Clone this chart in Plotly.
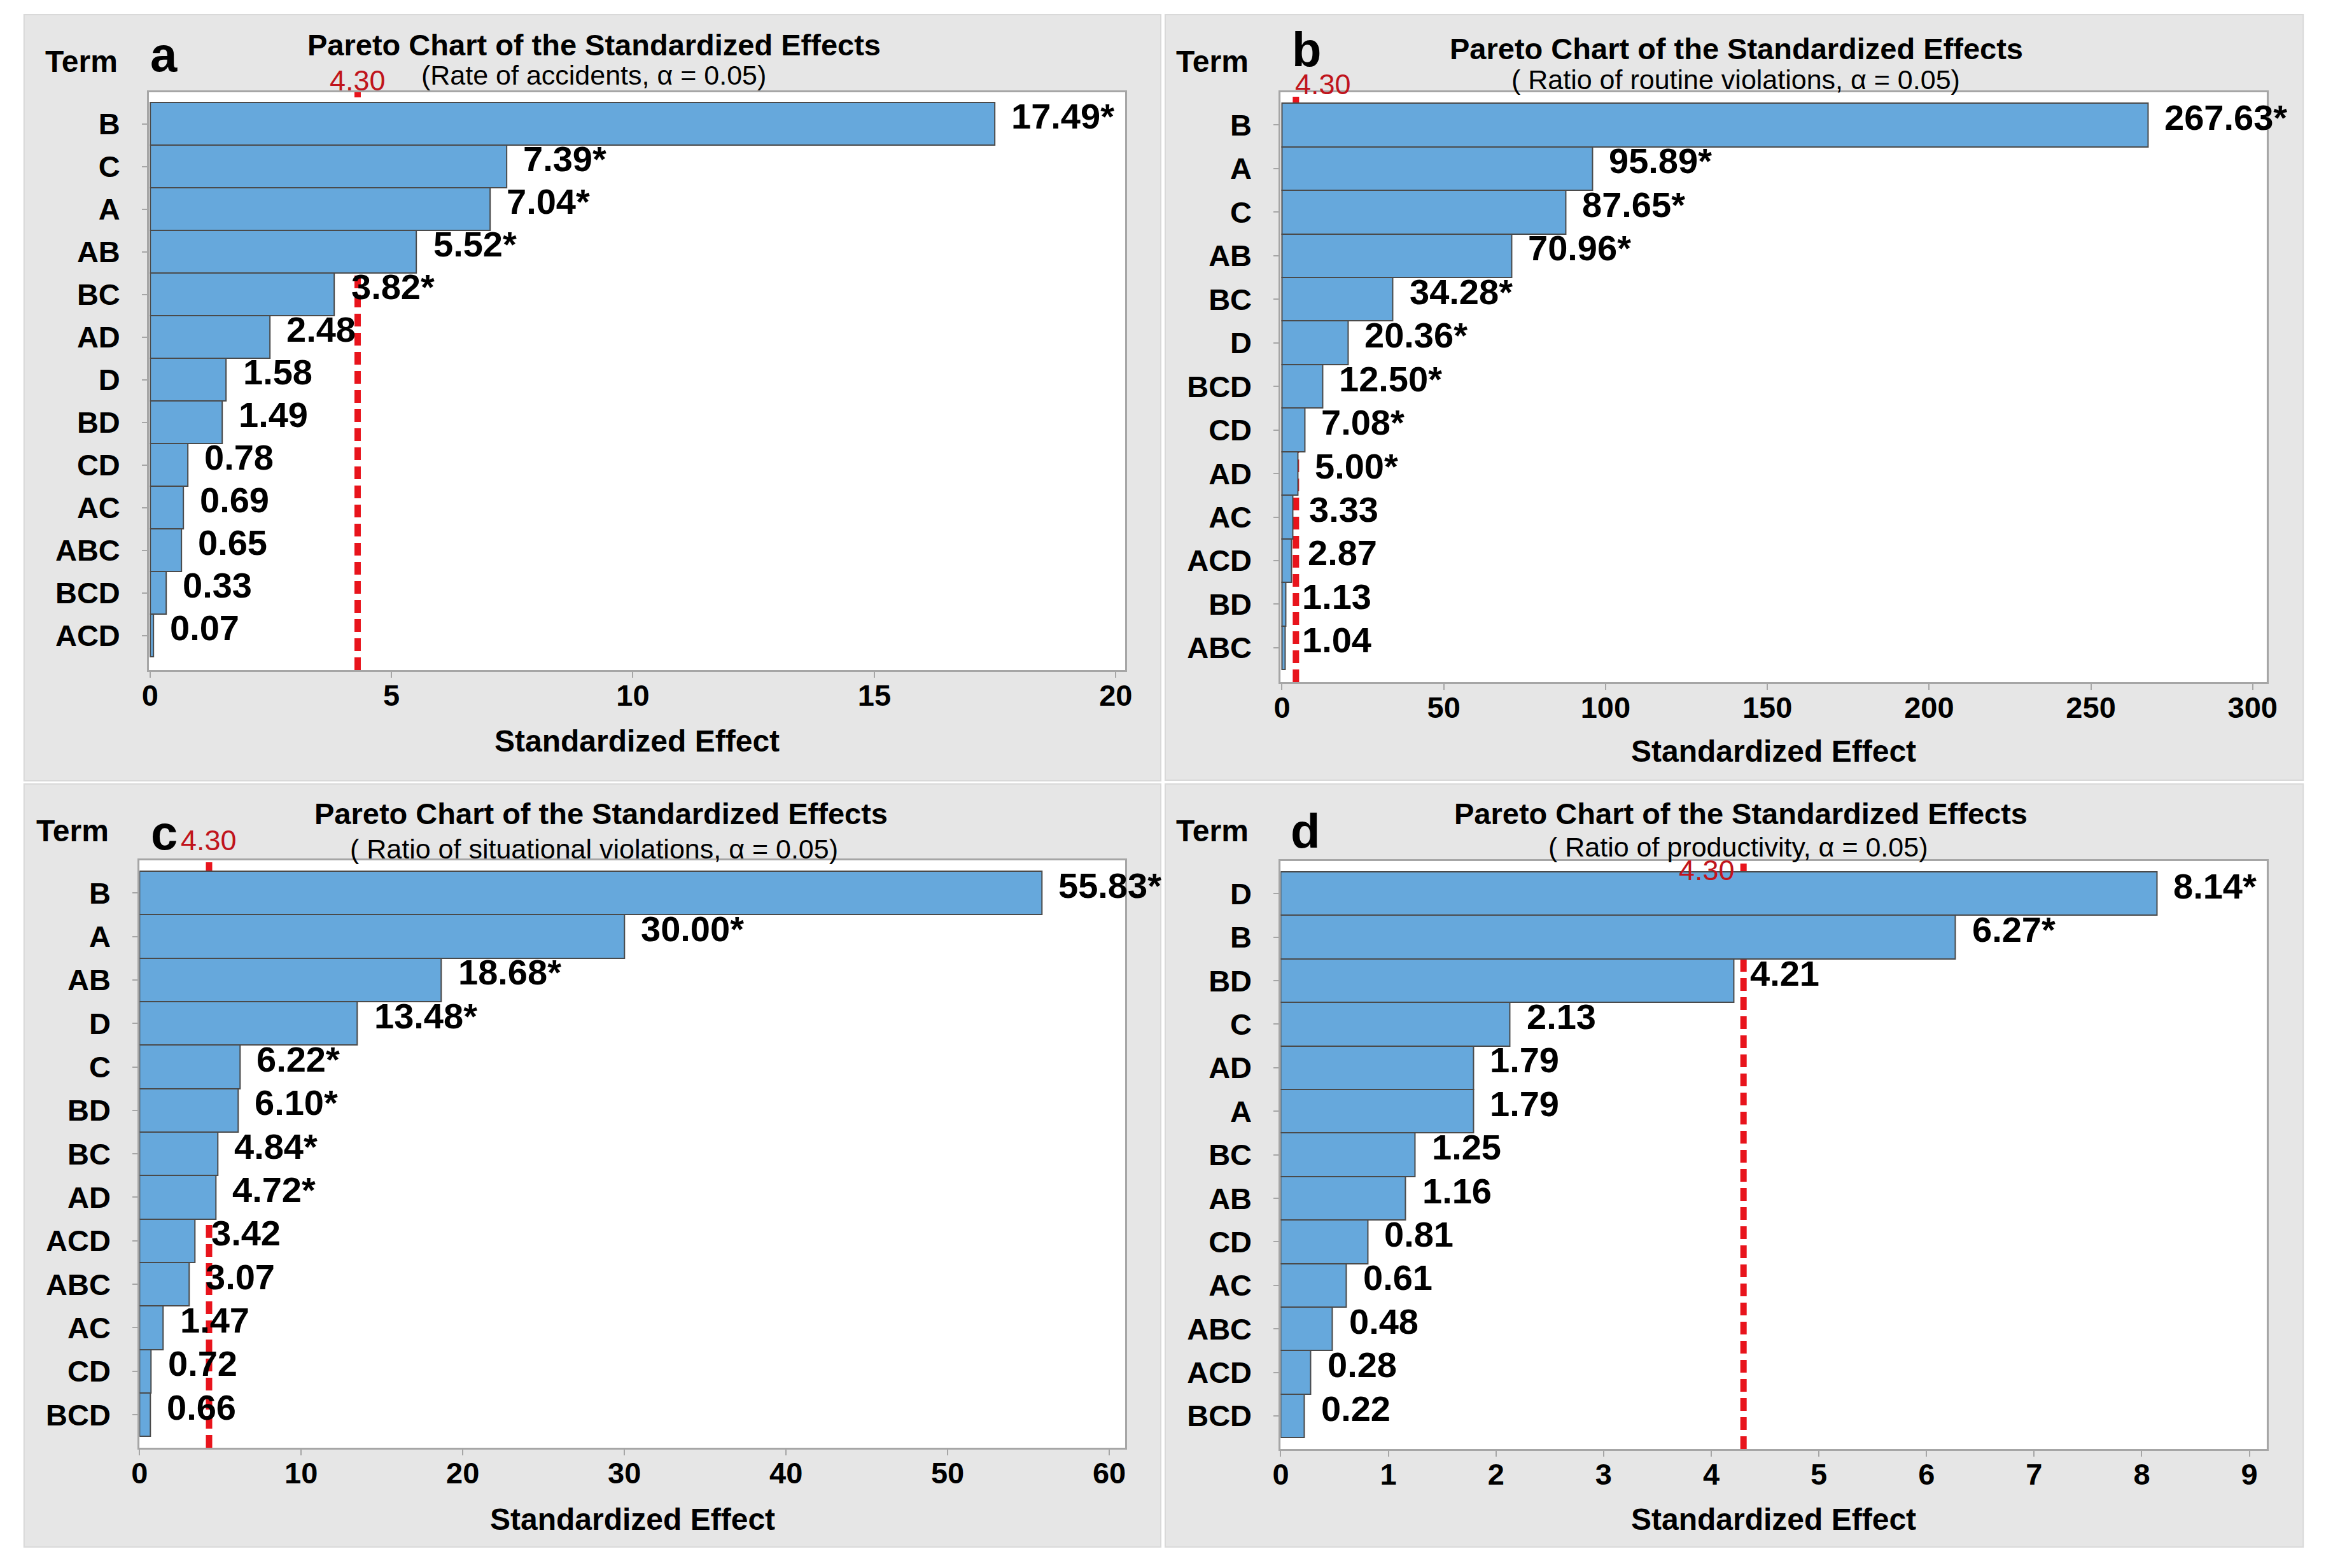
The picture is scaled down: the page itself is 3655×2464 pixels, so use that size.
import plotly.graph_objects as go

# ---------------- data ----------------
threshold = 4.30

terms_a = ["B", "C", "A", "AB", "BC", "AD", "D", "BD", "CD", "AC", "ABC", "BCD", "ACD"]
effects_a = [17.49, 7.39, 7.04, 5.52, 3.82, 2.48, 1.58, 1.49, 0.78, 0.69, 0.65, 0.33, 0.07]
signif_a = [1, 1, 1, 1, 1, 0, 0, 0, 0, 0, 0, 0, 0]

terms_b = ["B", "A", "C", "AB", "BC", "D", "BCD", "CD", "AD", "AC", "ACD", "BD", "ABC"]
effects_b = [267.63, 95.89, 87.65, 70.96, 34.28, 20.36, 12.50, 7.08, 5.00, 3.33, 2.87, 1.13, 1.04]
signif_b = [1, 1, 1, 1, 1, 1, 1, 1, 1, 0, 0, 0, 0]

terms_c = ["B", "A", "AB", "D", "C", "BD", "BC", "AD", "ACD", "ABC", "AC", "CD", "BCD"]
effects_c = [55.83, 30.00, 18.68, 13.48, 6.22, 6.10, 4.84, 4.72, 3.42, 3.07, 1.47, 0.72, 0.66]
signif_c = [1, 1, 1, 1, 1, 1, 1, 1, 0, 0, 0, 0, 0]

terms_d = ["D", "B", "BD", "C", "AD", "A", "BC", "AB", "CD", "AC", "ABC", "ACD", "BCD"]
effects_d = [8.14, 6.27, 4.21, 2.13, 1.79, 1.79, 1.25, 1.16, 0.81, 0.61, 0.48, 0.28, 0.22]
signif_d = [1, 1, 0, 0, 0, 0, 0, 0, 0, 0, 0, 0, 0]

title_text = "Pareto Chart of the Standardized Effects"
subtitles = [
    "(Rate of accidents, α = 0.05)",
    "( Ratio of routine violations, α = 0.05)",
    "( Ratio of situational violations, α = 0.05)",
    "( Ratio of productivity, α = 0.05)",
]
letters = ["a", "b", "c", "d"]
ticks_a = [0, 5, 10, 15, 20]
ticks_b = [0, 50, 100, 150, 200, 250, 300]
ticks_c = [0, 10, 20, 30, 40, 50, 60]
ticks_d = [0, 1, 2, 3, 4, 5, 6, 7, 8, 9]

# ---------------- layout / style ----------------
W, H = 3655, 2464
FONT = "Liberation Sans, Arial, Helvetica, sans-serif"
BAR = "#66a8dc"
BAR_LINE = "#4a4a4a"
GRAY_BG = "#e6e6e6"
AXIS_GRAY = "#a6a6a6"
RED = "#e8141c"
DARK_RED = "#c0141c"


def px(x):
    return x / W


def py(y):
    return 1 - y / H


layouts = [
    dict(plot=(223, 145, 1770, 1053), bg=(25, 23, 1826, 1227), yr=[12.81, -0.74], xr=[-0.02, 20.2],
         term=(116, 96), letter=(247, 86), title=(928, 71), sub=(928, 118),
         thr=("center", 0, 126), xtitle=1165),
    dict(plot=(2016, 145, 3578, 1072), bg=(1833, 23, 3636, 1226), yr=[12.79, -0.75], xr=[-0.4, 304.3],
         term=(1908, 96), letter=(2057, 78), title=(2738, 76), sub=(2737, 125),
         thr=("left", -3, 132), xtitle=1180),
    dict(plot=(208, 1352, 1770, 2275), bg=(25, 1232, 1826, 2431), yr=[12.76, -0.75], xr=[0, 61.0],
         term=(102, 1305), letter=(247, 1308), title=(939, 1278), sub=(928, 1334),
         thr=("center", 0, 1320), xtitle=2387),
    dict(plot=(2016, 1353, 3578, 2277), bg=(1833, 1232, 3636, 2431), yr=[12.76, -0.75], xr=[0, 9.16],
         term=(1908, 1305), letter=(2055, 1305), title=(2745, 1278), sub=(2740, 1331),
         thr=("right", -12, 1367), xtitle=2387),
]

data_sets = [
    (terms_a, effects_a, signif_a, ticks_a),
    (terms_b, effects_b, signif_b, ticks_b),
    (terms_c, effects_c, signif_c, ticks_c),
    (terms_d, effects_d, signif_d, ticks_d),
]

fig = go.Figure()
shapes = []
annotations = []
layout_axes = {}

for i, ((terms, effects, signif, ticks), L) in enumerate(zip(data_sets, layouts)):
    n = i + 1
    xa = "x" if n == 1 else f"x{n}"
    ya = "y" if n == 1 else f"y{n}"
    xkey = "xaxis" if n == 1 else f"xaxis{n}"
    ykey = "yaxis" if n == 1 else f"yaxis{n}"

    fig.add_trace(go.Bar(
        x=effects, y=terms, orientation="h", xaxis=xa, yaxis=ya,
        marker=dict(color=BAR, line=dict(color=BAR_LINE, width=2)),
        hoverinfo="x+y", showlegend=False,
    ))

    x0, y0, x1, y1 = L["plot"]
    layout_axes[xkey] = dict(
        domain=[px(x0), px(x1)], anchor=ya, range=L["xr"],
        tickmode="array", tickvals=ticks, ticktext=[str(t) for t in ticks],
        ticks="outside", ticklen=9, tickwidth=2, tickcolor=AXIS_GRAY,
        showline=True, linecolor=AXIS_GRAY, linewidth=3, mirror=True,
        showgrid=False, zeroline=False,
        tickfont=dict(family=FONT, size=47, color="black", weight="bold"),
        ticklabelstandoff=-12,
    )
    layout_axes[ykey] = dict(
        domain=[py(y1), py(y0)], anchor=xa, type="category",
        categoryorder="array", categoryarray=terms, range=L["yr"],
        ticks="outside", ticklen=8, tickwidth=2, tickcolor=AXIS_GRAY,
        showline=True, linecolor=AXIS_GRAY, linewidth=3, mirror=True,
        showgrid=False, zeroline=False,
        tickfont=dict(family=FONT, size=47, color="black", weight="bold"),
        ticklabelstandoff=25,
    )

    # gray panel background and white plotting area
    bx0, by0, bx1, by1 = L["bg"]
    shapes.append(dict(type="rect", xref="paper", yref="paper", layer="below",
                       x0=px(bx0), x1=px(bx1), y0=py(by1), y1=py(by0),
                       fillcolor=GRAY_BG, line=dict(color="#d9d9d9", width=2)))
    shapes.append(dict(type="rect", xref="paper", yref="paper", layer="below",
                       x0=px(x0), x1=px(x1), y0=py(y1), y1=py(y0),
                       fillcolor="white", line=dict(width=0)))

    # threshold reference line
    shapes.append(dict(type="line", xref=xa, yref=f"{ya} domain", layer="below",
                       x0=threshold, x1=threshold, y0=0, y1=1,
                       line=dict(color=RED, width=10, dash="20px,10px")))

    # value labels
    for t, v, s in zip(terms, effects, signif):
        label = f"{v:.2f}" + ("*" if s else "")
        annotations.append(dict(
            x=v, y=t, xref=xa, yref=ya, text=label, showarrow=False,
            xanchor="left", yanchor="middle", xshift=24, yshift=12,
            font=dict(family=FONT, size=56, color="black", weight="bold"),
        ))

    # threshold label
    anc, shift, ty = L["thr"]
    annotations.append(dict(
        x=threshold, y=py(ty), xref=xa, yref="paper", text=f"{threshold:.2f}",
        showarrow=False, xanchor=anc, yanchor="middle", xshift=shift,
        font=dict(family=FONT, size=45, color=DARK_RED),
    ))

    # Term label, panel letter, titles
    tx, tyy = L["term"]
    annotations.append(dict(x=px(tx), y=py(tyy), xref="paper", yref="paper", text="Term",
                            showarrow=False, xanchor="center", yanchor="middle",
                            font=dict(family=FONT, size=48, color="black", weight="bold")))
    lx, ly = L["letter"]
    annotations.append(dict(x=px(lx), y=py(ly), xref="paper", yref="paper", text=letters[i],
                            showarrow=False, xanchor="center", yanchor="middle",
                            font=dict(family=FONT, size=76, color="black", weight="bold")))
    ttx, tty = L["title"]
    annotations.append(dict(x=px(ttx), y=py(tty), xref="paper", yref="paper", text=title_text,
                            showarrow=False, xanchor="center", yanchor="middle",
                            font=dict(family=FONT, size=47, color="black", weight="bold")))
    sx, sy = L["sub"]
    annotations.append(dict(x=px(sx), y=py(sy), xref="paper", yref="paper", text=subtitles[i],
                            showarrow=False, xanchor="center", yanchor="middle",
                            font=dict(family=FONT, size=43, color="black")))
    # x-axis title
    annotations.append(dict(x=px((x0 + x1) / 2), y=py(L["xtitle"]), xref="paper", yref="paper",
                            text="Standardized Effect", showarrow=False,
                            xanchor="center", yanchor="middle",
                            font=dict(family=FONT, size=48, color="black", weight="bold")))

fig.update_layout(
    width=W, height=H,
    margin=dict(l=0, r=0, t=0, b=0),
    paper_bgcolor="white", plot_bgcolor="white",
    bargap=0, showlegend=False,
    shapes=shapes, annotations=annotations,
    font=dict(family=FONT),
    **layout_axes,
)

fig.write_html(
    "out.html",
    config={"displayModeBar": False},
    post_script=(
        "document.body.style.margin='0px';"
        "document.body.style.overflow='hidden';"
        "document.documentElement.style.overflow='hidden';"
    ),
)
